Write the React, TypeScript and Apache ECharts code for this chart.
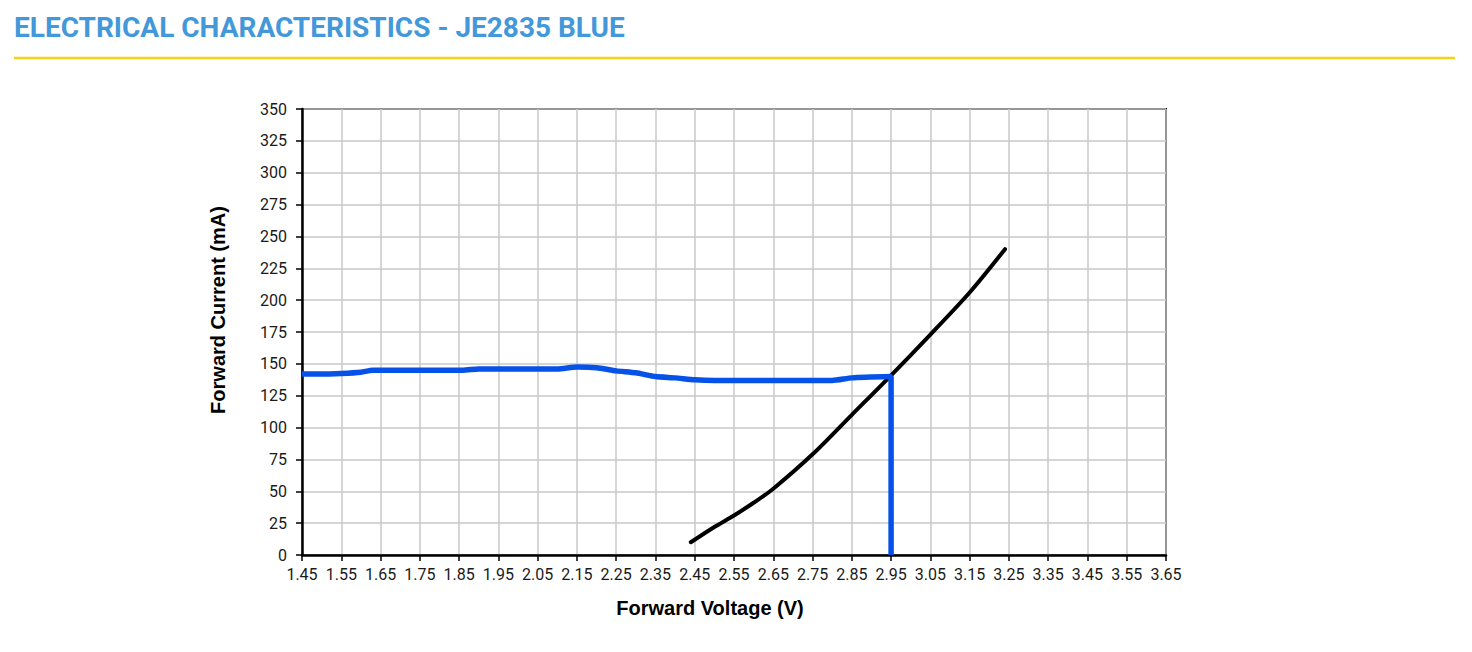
import React, { useEffect, useRef } from "react";
import * as echarts from "echarts";

const titleText = "ELECTRICAL CHARACTERISTICS - JE2835 BLUE";
const xAxisName = "Forward Voltage (V)";
const yAxisName = "Forward Current (mA)";

// Blue curve (current limit) – voltage, current
const blueVoltage = [1.45, 1.50, 1.55, 1.60, 1.63, 1.70, 1.80, 1.86, 1.90, 2.00, 2.10, 2.15, 2.20, 2.25, 2.30, 2.35, 2.40, 2.45, 2.50, 2.60, 2.70, 2.80, 2.85, 2.95, 2.95];
const blueCurrent = [142, 142, 142.5, 143.5, 145, 145, 145, 145, 146, 146, 146, 147.5, 147, 144.5, 143, 140, 139, 137.5, 137, 137, 137, 137, 139, 140, 0];

// Black curve (IV characteristic)
const blackVoltage = [2.44, 2.50, 2.55, 2.60, 2.65, 2.75, 2.85, 2.95, 3.05, 3.15, 3.24];
const blackCurrent = [10, 22, 31, 41, 52, 79, 110, 141, 173, 206, 240];

const xMin = 1.45;
const xMax = 3.65;
const xStep = 0.1;
const yMin = 0;
const yMax = 350;
const yStep = 25;

export default function App() {
  const ref = useRef<HTMLDivElement>(null);
  useEffect(() => {
    if (!ref.current) return;
    const chart = echarts.init(ref.current, undefined, { renderer: "svg" });
    const font = "Roboto, 'Liberation Sans', Arial, sans-serif";
    const nameFont = "'Liberation Sans', Arial, sans-serif";
    chart.setOption({
      animation: false,
      backgroundColor: "#ffffff",
      title: {
        text: titleText,
        left: 9,
        top: 8,
        textStyle: { fontFamily: font, fontWeight: "bold", fontSize: 28, color: "#4398da" },
      },
      graphic: [
        {
          type: "line",
          shape: { x1: 14, y1: 58, x2: 1455, y2: 58 },
          style: { stroke: "#f6d31a", lineWidth: 2.5 },
        },
      ],
      grid: {
        left: 302,
        top: 109,
        width: 864,
        height: 446,
        show: true,
        borderColor: "#000",
        borderWidth: 2,
        backgroundColor: "transparent",
      },
      xAxis: {
        type: "value",
        min: xMin,
        max: xMax,
        interval: xStep,
        name: xAxisName,
        nameLocation: "middle",
        nameGap: 43,
        nameTextStyle: { fontFamily: nameFont, fontWeight: "bold", fontSize: 20, color: "#000", padding: [0, 48, 0, 0] },
        axisLine: { show: true, lineStyle: { color: "#000", width: 2.5 } },
        axisTick: { show: true, length: 6, lineStyle: { color: "#000", width: 1.5 } },
        axisLabel: {
          fontFamily: font,
          fontSize: 16,
          color: "#1a1a1a",
          margin: 11,
          formatter: (v: number) => v.toFixed(2),
        },
        splitLine: { show: true, lineStyle: { color: "#c8c8c8", width: 1.5 } },
      },
      yAxis: {
        type: "value",
        min: yMin,
        max: yMax,
        interval: yStep,
        name: yAxisName,
        nameLocation: "middle",
        nameGap: 74,
        nameTextStyle: { fontFamily: nameFont, fontWeight: "bold", fontSize: 20, color: "#000", padding: [0, 0, 0, 44] },
        axisLine: { show: true, lineStyle: { color: "#000", width: 2.5 } },
        axisTick: { show: true, length: 6, lineStyle: { color: "#000", width: 1.5 } },
        axisLabel: { fontFamily: font, fontSize: 16, color: "#1a1a1a", margin: 15 },
        splitLine: { show: true, lineStyle: { color: "#c8c8c8", width: 1.5 } },
      },
      series: [
        {
          type: "line",
          data: blackVoltage.map((v, i) => [v, blackCurrent[i]]),
          showSymbol: false,
          smooth: 0.3,
          lineStyle: { color: "#000", width: 4, cap: "round" },
          z: 3,
        },
        {
          type: "line",
          data: blueVoltage.map((v, i) => [v, blueCurrent[i]]),
          showSymbol: false,
          smooth: 0.2,
          lineStyle: { color: "#0652e8", width: 5.5 },
          z: 4,
        },
      ],
    });
    return () => chart.dispose();
  }, []);
  return <div ref={ref} style={{ position: "fixed", left: 0, top: 0, width: 1472, height: 652 }} />;
}
